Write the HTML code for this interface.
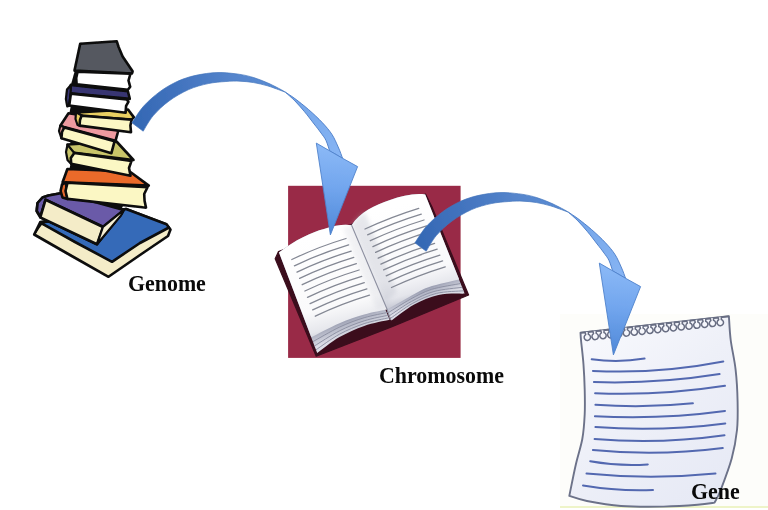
<!DOCTYPE html>
<html><head><meta charset="utf-8">
<style>
html,body{margin:0;padding:0;background:#fff;}
body{width:768px;height:510px;overflow:hidden;position:relative;font-family:"Liberation Serif",serif;}
svg{position:absolute;left:0;top:0;}
.lbl{position:absolute;font-family:"Liberation Serif",serif;font-weight:bold;font-size:23px;transform:scaleX(0.952);transform-origin:left top;color:#0a0a0a;filter:blur(0.35px);line-height:1;white-space:nowrap;}
</style></head><body>
<svg width="768" height="510" viewBox="0 0 768 510">
<defs>
<filter id="b2" x="-20%" y="-20%" width="140%" height="140%"><feGaussianBlur stdDeviation="2.2"/></filter>
<filter id="soft" x="-5%" y="-5%" width="110%" height="110%"><feGaussianBlur stdDeviation="0.55"/></filter>
<linearGradient id="ag" gradientUnits="userSpaceOnUse" x1="135" y1="125" x2="295" y2="95">
<stop offset="0" stop-color="#3468b4"/><stop offset="0.3" stop-color="#4273be"/><stop offset="0.65" stop-color="#5585cc"/><stop offset="1" stop-color="#5c8ed6"/>
</linearGradient>
<linearGradient id="al" gradientUnits="userSpaceOnUse" x1="250" y1="80" x2="340" y2="155">
<stop offset="0" stop-color="#6596dc"/><stop offset="0.5" stop-color="#78a8ea"/><stop offset="1" stop-color="#86b4f4"/>
</linearGradient>
<linearGradient id="ah" gradientUnits="userSpaceOnUse" x1="336" y1="148" x2="331" y2="235">
<stop offset="0" stop-color="#8ab8f6"/><stop offset="0.45" stop-color="#72a6ee"/><stop offset="1" stop-color="#4f88d8"/>
</linearGradient>
<linearGradient id="pgL" gradientUnits="userSpaceOnUse" x1="320" y1="235" x2="345" y2="335">
<stop offset="0" stop-color="#ffffff"/><stop offset="0.7" stop-color="#fafafb"/><stop offset="0.9" stop-color="#e6e7ec"/><stop offset="1" stop-color="#c8cad4"/>
</linearGradient>
<linearGradient id="pgR" gradientUnits="userSpaceOnUse" x1="400" y1="205" x2="425" y2="300">
<stop offset="0" stop-color="#ffffff"/><stop offset="0.7" stop-color="#f9f9fb"/><stop offset="0.9" stop-color="#e4e5eb"/><stop offset="1" stop-color="#c4c6d2"/>
</linearGradient>
<linearGradient id="spine" gradientUnits="userSpaceOnUse" x1="340" y1="265" x2="372" y2="253">
<stop offset="0" stop-color="#ffffff" stop-opacity="0"/><stop offset="0.55" stop-color="#b8bac4" stop-opacity="0.9"/><stop offset="0.7" stop-color="#d8d9e0" stop-opacity="0.8"/><stop offset="1" stop-color="#ffffff" stop-opacity="0"/>
</linearGradient>
<linearGradient id="thickL" gradientUnits="userSpaceOnUse" x1="345" y1="318" x2="351" y2="334">
<stop offset="0" stop-color="#8f93a8"/><stop offset="0.4" stop-color="#b4b7c6"/><stop offset="1" stop-color="#dedfe8"/>
</linearGradient>
<linearGradient id="thickR" gradientUnits="userSpaceOnUse" x1="425" y1="287" x2="430" y2="300">
<stop offset="0" stop-color="#8f93a8"/><stop offset="0.4" stop-color="#b2b5c5"/><stop offset="1" stop-color="#dcdde6"/>
</linearGradient>
<linearGradient id="npg" gradientUnits="userSpaceOnUse" x1="585" y1="330" x2="720" y2="500">
<stop offset="0" stop-color="#f8f9fd"/><stop offset="0.45" stop-color="#eef0f8"/><stop offset="1" stop-color="#e6e9f5"/>
</linearGradient>
<g id="arrow">
<path d="M285.4,92.2 C287.0,93.3 291.0,95.7 294.9,98.6 C298.8,101.5 304.0,105.6 308.6,109.6 C313.2,113.6 318.4,118.4 322.3,122.6 C326.2,126.8 329.4,130.4 332.0,134.5 C334.6,138.6 336.4,143.0 338.2,147.0 C340.0,151.0 341.9,156.4 342.6,158.3 L329.6,150.8 C329.0,149.1 327.4,143.5 326.0,140.5 C324.6,137.5 323.0,135.8 321.0,133.0 C319.0,130.2 316.9,127.5 314.1,124.0 C311.4,120.5 307.7,115.5 304.5,111.7 C301.3,107.9 298.1,104.2 294.9,100.9 C291.7,97.7 287.0,93.7 285.4,92.2 Z" fill="url(#al)" stroke="#4b7cc6" stroke-width="0.9" stroke-linejoin="round"/>
<path d="M131.9,122.8 C133.9,120.0 139.1,111.2 143.7,106.1 C148.3,101.0 154.2,95.9 159.4,92.0 C164.6,88.1 169.9,85.1 175.1,82.5 C180.3,79.9 185.5,78.1 190.7,76.6 C195.9,75.1 201.2,74.2 206.4,73.5 C211.6,72.8 216.5,72.4 222.1,72.6 C227.7,72.8 234.7,73.6 240.0,74.4 C245.3,75.2 249.1,76.2 253.7,77.6 C258.3,79.0 262.8,80.8 267.4,82.8 C272.0,84.8 278.2,88.1 281.2,89.7 C284.2,91.3 284.7,91.8 285.4,92.2 L278.4,89.6 C276.6,89.0 271.5,87.0 267.4,85.8 C263.3,84.6 258.3,83.4 253.7,82.6 C249.1,81.8 244.6,81.4 240.0,81.2 C235.4,81.0 231.2,81.1 225.9,81.5 C220.6,81.9 214.4,82.2 208.2,83.6 C202.0,84.9 195.1,86.7 188.6,89.6 C182.1,92.5 174.9,96.7 169.0,101.0 C163.1,105.3 157.6,110.6 153.3,115.6 C149.0,120.6 144.9,128.6 143.2,131.2 Z" fill="url(#ag)" stroke="#4274bc" stroke-width="0.7" stroke-linejoin="round"/>
<path d="M316.3,143.1 L329.6,150.8 L342.6,158.3 L357.6,166.6 L330.4,234.9 Z" fill="url(#ah)" stroke="#4f82cc" stroke-width="0.9" stroke-linejoin="round"/>
</g>
</defs>
<g filter="url(#soft)">
<!-- faint notepad bg -->
<rect x="560" y="314" width="208" height="193" fill="#fdfdfa"/>
<rect x="560" y="506" width="208" height="2" fill="#eef4c8"/>

<!-- maroon square -->
<rect x="288.1" y="185.8" width="172.5" height="172.1" fill="#992b47"/>

<!-- open book -->
<g id="openbook"><path d="M275.2,258.8 L278.5,251.5 L351.0,224.5 L425.5,194.0 L431.8,206.5 L468.6,295.0 L392.7,326.4 L316.2,356.2 Z" fill="#3b0f1f" stroke="#3b0f1f" stroke-width="1.2" stroke-linejoin="round"/>
<path d="M279,252.5 C295,240 312,232 324,229 C336,225 345,224 351.6,225.3 L389.5,319.8 L389.5,319.8 C385.3,320.8 372.5,323.0 364.2,325.9 C355.9,328.8 347.3,332.5 339.5,337.0 C331.7,341.5 320.9,350.3 317.2,353.0 Z" fill="url(#thickL)"/>
<path d="M351.6,225.3 C360,212 375,205 390,200 C402,196 414,193 425.2,194.5 L464.6,293.6 L464.6,293.6 C460.2,293.8 446.9,293.0 438.4,294.9 C429.9,296.8 421.5,300.5 413.7,304.8 C405.9,309.1 395.2,317.9 391.5,320.5 L351.6,225.3 Z" fill="url(#thickR)"/>
<path d="M387.8,312.4 C383.9,313.3 372.3,315.2 364.2,317.7 C356.1,320.1 348.0,323.1 339.5,327.1 C331.0,331.1 317.4,339.2 313.0,341.6 M460.7,283.5 C455.8,284.5 439.7,286.8 431.3,289.4 C422.8,292.1 417.3,295.5 410.2,299.3 C403.0,303.2 392.0,310.4 388.4,312.6 M388.5,315.2 C384.4,316.1 372.4,318.2 364.2,320.8 C356.0,323.4 347.8,326.6 339.5,330.8 C331.2,335.0 318.7,343.4 314.5,345.9 M462.2,287.3 C457.5,288.0 442.4,289.1 433.9,291.5 C425.5,293.8 418.9,297.4 411.5,301.4 C404.1,305.4 393.2,313.2 389.6,315.6 M389.0,317.7 C384.9,318.7 372.5,320.9 364.2,323.6 C355.9,326.4 347.5,329.9 339.5,334.2 C331.5,338.6 319.9,347.2 316.0,349.8 M463.5,290.8 C459.0,291.2 444.9,291.3 436.4,293.4 C428.0,295.5 420.3,299.1 412.7,303.3 C405.1,307.4 394.3,315.8 390.6,318.3 " fill="none" stroke="#8a8da0" stroke-width="1.0" opacity="0.9"/>
<path d="M279,252.5 C295,240 312,232 324,229 C336,225 345,224 351.6,225.3 L387.2,309.5 L387.2,309.5 C383.4,310.3 372.1,312.2 364.2,314.5 C356.2,316.8 348.3,319.4 339.5,323.2 C330.7,327.0 316.0,334.9 311.3,337.2 Z" fill="url(#pgL)"/>
<path d="M351.6,225.3 C360,212 375,205 390,200 C402,196 414,193 425.2,194.5 L459.2,279.6 L459.2,279.6 C454.1,280.9 436.9,284.4 428.5,287.3 C420.1,290.2 415.7,293.5 408.8,297.2 C401.9,300.9 390.8,307.4 387.2,309.5 L351.6,225.3 Z" fill="url(#pgR)"/>
<path d="M352,226 C355,219 359,215 365,212 L397,292 C392,296 388,300 386,306 Z" fill="#b4b7c4" opacity="0.32" filter="url(#b2)"/>
<path d="M351.6,225.3 L386,306 L377,310 L343,228 Z" fill="#b9bcc8" opacity="0.18" filter="url(#b2)"/>
<path d="M351.6,225.3 L387.2,309.5 L390.5,320" stroke="#8f92a2" stroke-width="1.1" fill="none"/>
<path d="M291.8,259.5 Q318.1,246.9 346.0,238.5 M294.4,265.8 Q320.7,253.2 348.6,244.8 M297.0,272.1 Q323.3,259.5 351.2,251.1 M299.6,278.4 Q325.9,265.8 353.8,257.4 M302.2,284.7 Q328.5,272.1 356.4,263.7 M304.9,291.0 Q331.2,278.4 359.1,270.0 M307.5,297.3 Q333.8,284.7 361.7,276.3 M310.1,303.6 Q336.4,291.0 364.3,282.6 M312.7,309.9 Q339.0,297.3 366.9,288.9 M315.3,316.2 Q341.6,303.6 369.5,295.2 M365.0,229.0 Q391.1,216.8 418.7,208.3 M367.6,234.8 Q393.8,222.6 421.3,214.2 M370.3,240.7 Q396.4,228.5 424.0,220.0 M372.9,246.6 Q399.1,234.3 426.6,225.9 M375.6,252.4 Q401.7,240.2 429.3,231.7 M378.2,258.2 Q404.4,246.0 431.9,237.6 M380.9,264.1 Q407.0,251.9 434.6,243.4 M383.6,269.9 Q409.7,257.7 437.2,249.2 M386.2,275.8 Q412.3,263.6 439.9,255.1 M388.9,281.6 Q415.0,269.4 442.6,260.9 M391.5,287.5 Q417.6,275.3 445.2,266.8 " fill="none" stroke="#848894" stroke-width="1.3" stroke-linecap="round"/></g>

<!-- notepad -->
<g id="notepad"><path d="M728.9,316.2 C729.2,320.2 729.6,331.1 730.7,340.0 C731.8,348.9 734.5,359.4 735.6,369.7 C736.8,380.0 737.4,391.8 737.6,401.9 C737.8,411.9 738.0,420.6 737.0,430.0 C736.0,439.4 734.5,448.2 731.7,458.4 C728.9,468.6 723.1,483.6 720.3,491.0 C717.4,498.4 715.5,500.7 714.6,502.6 L714.6,502.6 C711.8,503.0 706.1,504.1 697.6,504.8 C689.1,505.5 676.3,506.4 663.5,506.6 C650.7,506.8 633.8,506.9 621.0,506.0 C608.2,505.1 595.5,502.7 586.9,501.0 C578.3,499.3 572.2,496.8 569.3,495.9 L569.3,495.9 C570.4,490.5 573.8,473.2 576.0,463.7 C578.2,454.2 580.8,447.2 582.3,439.0 C583.8,430.8 584.3,422.4 584.7,414.2 C585.1,405.9 584.9,397.8 584.7,389.5 C584.5,381.2 584.1,372.9 583.5,364.7 C582.9,356.4 581.5,345.3 581.0,340.0 C580.5,334.7 580.6,333.9 580.5,332.7 Z" fill="url(#npg)" stroke="#6c7289" stroke-width="1.9" stroke-linejoin="round"/>
<g transform="translate(580.5,332.7) rotate(-6.344)"><path d="M0,0 L4.60,0 l0.4,2.4 a3.2,3.2 0 1 0 2.6,0 l0.4,-2.4 L12.47,0 l0.4,2.4 a3.2,3.2 0 1 0 2.6,0 l0.4,-2.4 L20.34,0 l0.4,2.4 a3.2,3.2 0 1 0 2.6,0 l0.4,-2.4 L28.21,0 l0.4,2.4 a3.2,3.2 0 1 0 2.6,0 l0.4,-2.4 L36.08,0 l0.4,2.4 a3.2,3.2 0 1 0 2.6,0 l0.4,-2.4 L43.95,0 l0.4,2.4 a3.2,3.2 0 1 0 2.6,0 l0.4,-2.4 L51.82,0 l0.4,2.4 a3.2,3.2 0 1 0 2.6,0 l0.4,-2.4 L59.69,0 l0.4,2.4 a3.2,3.2 0 1 0 2.6,0 l0.4,-2.4 L67.56,0 l0.4,2.4 a3.2,3.2 0 1 0 2.6,0 l0.4,-2.4 L75.44,0 l0.4,2.4 a3.2,3.2 0 1 0 2.6,0 l0.4,-2.4 L83.31,0 l0.4,2.4 a3.2,3.2 0 1 0 2.6,0 l0.4,-2.4 L91.18,0 l0.4,2.4 a3.2,3.2 0 1 0 2.6,0 l0.4,-2.4 L99.05,0 l0.4,2.4 a3.2,3.2 0 1 0 2.6,0 l0.4,-2.4 L106.92,0 l0.4,2.4 a3.2,3.2 0 1 0 2.6,0 l0.4,-2.4 L114.79,0 l0.4,2.4 a3.2,3.2 0 1 0 2.6,0 l0.4,-2.4 L122.66,0 l0.4,2.4 a3.2,3.2 0 1 0 2.6,0 l0.4,-2.4 L130.53,0 l0.4,2.4 a3.2,3.2 0 1 0 2.6,0 l0.4,-2.4 L138.40,0 l0.4,2.4 a3.2,3.2 0 1 0 2.6,0 l0.4,-2.4 L149.31,0" fill="#f6f7fc" stroke="#676d82" stroke-width="1.5" stroke-linejoin="round"/></g>
<path d="M591.7,359.3 Q618.2,362.8 644.6,358.6 M592.9,370.9 Q658.1,374.2 723.3,361.5 M593.9,382.1 Q656.8,384.1 719.6,374.1 M595.1,393.2 Q660.0,395.9 725,385.8 M595.4,404.8 Q644.1,408.4 692.9,403.3 M594.9,416.2 Q660.0,419.8 725,411 M595.4,427.1 Q660.3,431.9 725.3,423.4 M594.6,439 Q659.5,444.5 724.5,435.3 M592.9,450.1 Q657.8,456.5 722.8,448.1 M590.2,461.2 Q619.0,466.4 647.8,464.4 M586.5,473.5 Q651.0,479.9 715.5,473.5 M583,485.5 Q618.0,491.4 653,490 " fill="none" stroke="#5268b0" stroke-width="2.0" stroke-linecap="round"/></g>

<!-- books placeholder -->
<g id="books"><path d="M80,60 L126,62 L127,100 L125,116 L113,134 L110,150 L126,166 L132,188 L120,212 L72,212 L66,188 L73,150 L66,130 L72,100 L78,85 Z" fill="#0b0b0b"/>
<path d="M40.3,222.0 L34.2,234.5 L70.0,255.0 L108.5,276.8 L140.0,255.0 L168.0,236.0 L170.5,229.5 L166.0,224.2 L126.0,209.0 Z" fill="#f4ecc8" stroke="#0b0b0b" stroke-width="2.6" stroke-linejoin="round" stroke-linecap="round"/>
<path d="M40.3,222.6 L126.0,209.0 L166.5,224.3 L169.0,227.5 L140.0,243.0 L112.0,261.8 L75.0,242.0 Z" fill="#356ab8" stroke="#0b0b0b" stroke-width="2.6" stroke-linejoin="round" stroke-linecap="round"/>
<path d="M34.4,234.3 L38.0,228.5 L41.0,224.5" fill="none" stroke="#0b0b0b" stroke-width="2.0" stroke-linejoin="round" stroke-linecap="round"/>
<path d="M48.5,195.5 L62.0,193.0 L123.8,209.9 L121.5,214.0 L97.0,244.2 L40.3,217.4 L36.6,211.0 L37.5,203.0 L42.5,197.5 Z" fill="#f4ecc8" stroke="#0b0b0b" stroke-width="2.6" stroke-linejoin="round" stroke-linecap="round"/>
<path d="M48.5,195.5 L62.0,193.0 L123.8,209.9 L103.0,226.8 L45.5,199.6 L40.5,216.8 L36.8,211.0 L37.6,203.0 L42.5,197.5 Z" fill="#6a5aa8" stroke="#0b0b0b" stroke-width="2.6" stroke-linejoin="round" stroke-linecap="round"/>
<path d="M45.5,199.8 L103.0,227.0 L97.0,244.2 L40.3,217.4 Z" fill="#f4ecc8" stroke="#0b0b0b" stroke-width="2.6" stroke-linejoin="round" stroke-linecap="round"/>
<path d="M103.0,227.0 L123.5,210.2 L121.0,215.5 L97.2,244.0 Z" fill="#f6f0d4" stroke="#0b0b0b" stroke-width="2.0" stroke-linejoin="round" stroke-linecap="round"/>
<path d="M67.4,169.0 L129.7,171.5 L148.8,185.6 L62.6,182.2 Z" fill="#ea6a2c" stroke="#0b0b0b" stroke-width="2.6" stroke-linejoin="round" stroke-linecap="round"/>
<path d="M66.0,182.3 L62.0,184.5 L60.6,191.0 L62.5,197.5 L67.4,199.0 Z" fill="#e56a2e" stroke="#0b0b0b" stroke-width="2.6" stroke-linejoin="round" stroke-linecap="round"/>
<path d="M67.5,182.8 L147.5,187.3 L144.2,194.0 L144.6,201.0 L146.0,207.6 L142.6,207.3 L67.4,198.9 L65.5,191.0 Z" fill="#fbf7c4" stroke="#0b0b0b" stroke-width="2.6" stroke-linejoin="round" stroke-linecap="round"/>
<path d="M67.5,144.5 L116.5,141.5 L133.5,160.0 L74.1,152.9 L69.5,151.0 Z" fill="#c9c56a" stroke="#0b0b0b" stroke-width="2.6" stroke-linejoin="round" stroke-linecap="round"/>
<path d="M67.5,144.8 L66.0,152.0 L67.5,160.0 L71.2,164.0 L74.3,153.0 Z" fill="#c9c56a" stroke="#0b0b0b" stroke-width="2.2" stroke-linejoin="round" stroke-linecap="round"/>
<path d="M74.3,153.0 L131.5,160.9 L129.0,168.0 L130.5,175.8 L71.2,163.8 L70.8,158.0 Z" fill="#fbf7c4" stroke="#0b0b0b" stroke-width="2.6" stroke-linejoin="round" stroke-linecap="round"/>
<path d="M68.5,113.3 L120.0,121.0 L117.8,132.5 L115.5,140.8 L64.0,127.0 L60.3,125.8 Z" fill="#ee9aa0" stroke="#0b0b0b" stroke-width="2.6" stroke-linejoin="round" stroke-linecap="round"/>
<path d="M64.3,127.2 L60.3,125.8 L59.0,131.0 L61.4,138.2 Z" fill="#ee9aa0" stroke="#0b0b0b" stroke-width="2.2" stroke-linejoin="round" stroke-linecap="round"/>
<path d="M64.3,127.4 L114.6,141.2 L111.4,153.2 L61.4,138.3 L62.0,132.0 Z" fill="#fbf7c4" stroke="#0b0b0b" stroke-width="2.6" stroke-linejoin="round" stroke-linecap="round"/>
<path d="M76.5,112.5 L128.0,109.5 L133.9,117.4 L131.5,119.6 L82.0,116.0 Z" fill="#e9cf62" stroke="#0b0b0b" stroke-width="2.6" stroke-linejoin="round" stroke-linecap="round"/>
<path d="M76.0,112.3 L75.5,119.0 L77.5,125.0 L80.5,126.0 L82.2,115.8 Z" fill="#e9cf62" stroke="#0b0b0b" stroke-width="2.2" stroke-linejoin="round" stroke-linecap="round"/>
<path d="M81.6,115.6 L131.6,119.7 L130.4,125.5 L131.0,132.2 L79.5,125.6 L80.0,120.0 Z" fill="#fbf7c4" stroke="#0b0b0b" stroke-width="2.6" stroke-linejoin="round" stroke-linecap="round"/>
<path d="M70.9,84.9 L127.9,91.2 L129.8,98.9 L69.4,93.2 Z" fill="#383672" stroke="#0b0b0b" stroke-width="2.6" stroke-linejoin="round" stroke-linecap="round"/>
<path d="M70.9,85.1 L67.0,89.5 L65.9,99.0 L67.2,106.4 L69.3,105.6 L70.6,93.5 Z" fill="#383672" stroke="#0b0b0b" stroke-width="2.2" stroke-linejoin="round" stroke-linecap="round"/>
<path d="M70.9,93.6 L126.8,99.5 L128.4,101.8 L126.1,105.9 L125.6,112.7 L69.2,105.5 Z" fill="#ffffff" stroke="#0b0b0b" stroke-width="2.6" stroke-linejoin="round" stroke-linecap="round"/>
<path d="M75,70 L78,72 L77,85 L70.5,86.2 Z" fill="#0b0b0b"/>
<path d="M80.2,43.8 L116.7,41.2 L118.6,47.0 L122.6,56.5 L132.6,71.3 L132.0,73.5 L74.5,70.6 Z" fill="#555960" stroke="#0b0b0b" stroke-width="2.6" stroke-linejoin="round" stroke-linecap="round"/>
<path d="M77.6,71.7 L130.4,73.8 L128.5,80.5 L130.2,86.8 L127.9,89.8 L76.6,84.4 L76.2,78.0 Z" fill="#ffffff" stroke="#0b0b0b" stroke-width="2.6" stroke-linejoin="round" stroke-linecap="round"/></g>

<!-- arrows -->
<use href="#arrow"/>
<use href="#arrow" transform="translate(283,120)"/>
</g>
</svg>
<div class="lbl" style="left:128px;top:271.9px;">Genome</div>
<div class="lbl" style="left:378.6px;top:363.8px;">Chromosome</div>
<div class="lbl" style="left:690.6px;top:479.7px;">Gene</div>
</body></html>
